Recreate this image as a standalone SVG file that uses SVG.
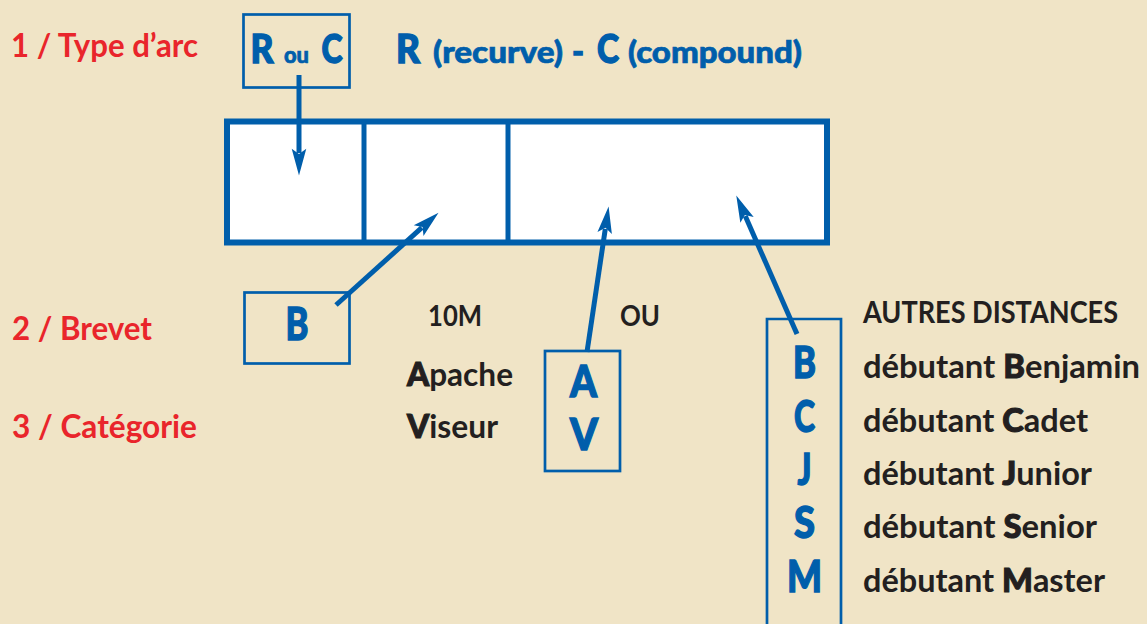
<svg xmlns="http://www.w3.org/2000/svg" width="1147" height="624" viewBox="0 0 1147 624">
<defs>
<style>
.bg{fill:#F0E4C6}
.red{fill:#E9252B;font-family:Lato,"Liberation Sans",sans-serif;font-weight:700}
.dark{fill:#231F20;font-family:Lato,"Liberation Sans",sans-serif;font-weight:700}
.em{font-weight:900;stroke:#231F20;stroke-width:1.1}
.blue{fill:#005EAB;font-family:Lato,"Liberation Sans",sans-serif;font-weight:900;stroke:#005EAB;stroke-width:1.4}
.thin{stroke-width:0.7}
.box{fill:none;stroke:#005EAB;stroke-width:2.7}
.main{fill:#FFFFFF;stroke:#005EAB;stroke-width:6}
.div{stroke:#005EAB;stroke-width:5}
.conn{stroke:#005EAB;stroke-width:5;fill:none;marker-end:url(#ah)}
</style>
<marker id="ah" markerUnits="userSpaceOnUse" markerWidth="30" markerHeight="20" viewBox="-6 -8 28 16" refX="0" refY="0" orient="auto">
<path d="M21,0 L-4,-6.8 L1,0 L-4,6.8 Z" fill="#005EAB"/>
</marker>
</defs>
<rect class="bg" x="0" y="0" width="1147" height="624"/>

<g id="labels">
<text class="red" x="11" y="57" font-size="33" textLength="187" lengthAdjust="spacingAndGlyphs">1 / Type d’arc</text>
<text class="red" x="12" y="340" font-size="32" textLength="140" lengthAdjust="spacingAndGlyphs">2 / Brevet</text>
<text class="red" x="12" y="438" font-size="32" textLength="185" lengthAdjust="spacingAndGlyphs">3 / Catégorie</text>
</g>

<g id="node-type">
<rect class="box" x="243.5" y="14.5" width="106" height="73"/>
<text class="blue" x="262" y="63" font-size="39" text-anchor="middle" textLength="23" lengthAdjust="spacingAndGlyphs">R</text>
<text class="blue thin" x="296.5" y="63" font-size="22" text-anchor="middle" textLength="25" lengthAdjust="spacingAndGlyphs">ou</text>
<text class="blue" x="332" y="63" font-size="39" text-anchor="middle" textLength="21" lengthAdjust="spacingAndGlyphs">C</text>
</g>

<g id="title">
<text class="blue" x="408" y="63" font-size="39" text-anchor="middle" textLength="24" lengthAdjust="spacingAndGlyphs">R</text>
<text class="blue thin" x="433" y="63" font-size="31" textLength="130" lengthAdjust="spacingAndGlyphs">(recurve)</text>
<text class="blue" x="578" y="63" font-size="31" text-anchor="middle">-</text>
<text class="blue" x="608" y="63" font-size="39" text-anchor="middle" textLength="22" lengthAdjust="spacingAndGlyphs">C</text>
<text class="blue thin" x="628" y="63" font-size="31" textLength="174" lengthAdjust="spacingAndGlyphs">(compound)</text>
</g>

<g id="node-main">
<rect class="main" x="227" y="121.5" width="600" height="121"/>
<line class="div" x1="364" y1="121.5" x2="364" y2="242.5"/>
<line class="div" x1="508" y1="121.5" x2="508" y2="242.5"/>
</g>

<g id="node-brevet">
<rect class="box" x="244.5" y="292.5" width="105" height="71"/>
<text class="blue" x="297" y="340" font-size="46" text-anchor="middle" textLength="23" lengthAdjust="spacingAndGlyphs">B</text>
</g>

<g id="node-10m">
<text class="dark" x="428" y="326" font-size="29" textLength="54" lengthAdjust="spacingAndGlyphs">10M</text>
<text class="dark" x="407" y="386" font-size="33" textLength="106" lengthAdjust="spacingAndGlyphs"><tspan class="em">A</tspan>pache</text>
<text class="dark" x="407" y="438" font-size="33" textLength="91" lengthAdjust="spacingAndGlyphs"><tspan class="em">V</tspan>iseur</text>
<text class="dark" x="620" y="326" font-size="29" textLength="40" lengthAdjust="spacingAndGlyphs">OU</text>
</g>

<g id="node-av">
<rect class="box" x="545" y="351" width="75" height="120"/>
<text class="blue" x="583.5" y="397" font-size="44" text-anchor="middle" textLength="27" lengthAdjust="spacingAndGlyphs">A</text>
<text class="blue" x="584" y="450" font-size="44" text-anchor="middle" textLength="28" lengthAdjust="spacingAndGlyphs">V</text>
</g>

<g id="node-cat">
<path class="box" d="M767,626 V319 H841 V626"/>
<text class="blue" x="804.5" y="378" font-size="43" text-anchor="middle" textLength="23" lengthAdjust="spacingAndGlyphs">B</text>
<text class="blue" x="804.5" y="432" font-size="43" text-anchor="middle" textLength="21" lengthAdjust="spacingAndGlyphs">C</text>
<text class="blue" x="804.5" y="485" font-size="43" text-anchor="middle" textLength="14" lengthAdjust="spacingAndGlyphs">J</text>
<text class="blue" x="804.5" y="538" font-size="43" text-anchor="middle" textLength="21" lengthAdjust="spacingAndGlyphs">S</text>
<text class="blue" x="804.5" y="592" font-size="43" text-anchor="middle" textLength="35" lengthAdjust="spacingAndGlyphs">M</text>
</g>

<g id="node-autres">
<text class="dark" x="863" y="323" font-size="30" textLength="255" lengthAdjust="spacingAndGlyphs">AUTRES DISTANCES</text>
<text class="dark" x="863" y="378" font-size="33" textLength="277" lengthAdjust="spacingAndGlyphs">débutant <tspan class="em">B</tspan>enjamin</text>
<text class="dark" x="863" y="432" font-size="33" textLength="225" lengthAdjust="spacingAndGlyphs">débutant <tspan class="em">C</tspan>adet</text>
<text class="dark" x="863" y="485" font-size="33" textLength="229" lengthAdjust="spacingAndGlyphs">débutant <tspan class="em">J</tspan>unior</text>
<text class="dark" x="863" y="538" font-size="33" textLength="234" lengthAdjust="spacingAndGlyphs">débutant <tspan class="em">S</tspan>enior</text>
<text class="dark" x="863" y="592" font-size="33" textLength="242" lengthAdjust="spacingAndGlyphs">débutant <tspan class="em">M</tspan>aster</text>
</g>

<g id="connectors">
<line class="conn" x1="299" y1="75" x2="299" y2="153"/>
<line class="conn" x1="336" y1="305" x2="421.8" y2="227.7"/>
<line class="conn" x1="587" y1="352" x2="605.3" y2="228.8"/>
<line class="conn" x1="797" y1="334" x2="745.3" y2="216"/>
</g>
</svg>
